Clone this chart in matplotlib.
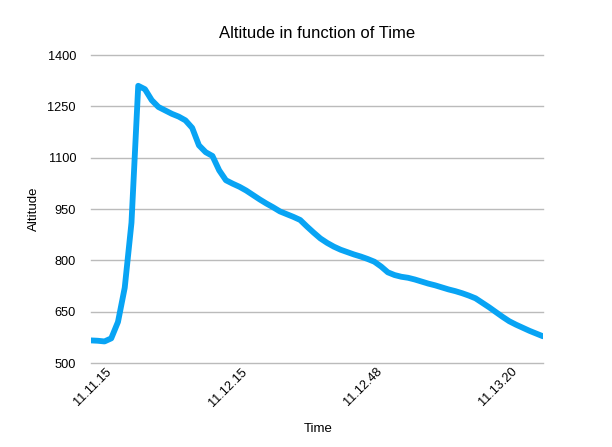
import matplotlib
matplotlib.use("Agg")
import matplotlib.pyplot as plt
import matplotlib.transforms as mtransforms
import numpy as np

plt.rcParams['font.family'] = ['Liberation Sans', 'DejaVu Sans']

altitude = [566, 565, 563, 572, 620, 720, 910, 1310, 1300, 1268,
            1248, 1238, 1228, 1220, 1209, 1187, 1136, 1116, 1105, 1063,
            1034, 1024, 1015, 1004, 991, 978, 966, 955, 943, 935,
            927, 918, 899, 881, 864, 851, 840, 831, 824, 817,
            811, 804, 796, 782, 765, 757, 752, 749, 744, 738,
            732, 727, 721, 715, 710, 704, 697, 689, 676, 663,
            649, 635, 622, 612, 603, 594, 586, 578]
tick_index = [0, 20, 40, 60]
tick_labels = ["11.11.15", "11.12.15", "11.12.48", "11.13.20"]
y_ticks = [500, 650, 800, 950, 1100, 1250, 1400]

x = np.arange(len(altitude))

fig = plt.figure(figsize=(6.12, 4.47), dpi=100)
ax = fig.add_axes([91/612, 1-363/447, (543-91)/612, (363-55)/447])

ax.plot(x, altitude, color='#08A4F4', linewidth=4.2, solid_capstyle='round',
        solid_joinstyle='round', zorder=3)

ax.set_xlim(0, len(altitude) - 1)
ax.set_ylim(500, 1400)
ax.set_yticks(y_ticks)
ax.set_yticklabels([str(v) for v in y_ticks], fontsize=9.2)
ax.yaxis.grid(True, color='#BBBBBB', linewidth=1.0)
for gl in ax.get_ygridlines():
    gl.set_clip_on(False)
ax.set_xticks(tick_index)

ax.tick_params(axis='both', length=0)
ax.tick_params(axis='y', pad=10.8)
ax.tick_params(axis='x', pad=5)
for s in ax.spines.values():
    s.set_visible(False)

ax.set_xticklabels(tick_labels, fontsize=9.2, rotation=45, ha='right',
                   va='center', rotation_mode='anchor')
offset = mtransforms.ScaledTranslation(19/100, 0, fig.dpi_scale_trans)
for lbl in ax.get_xticklabels():
    lbl.set_transform(lbl.get_transform() + offset)

ax.set_title("Altitude in function of Time", fontsize=12, pad=12)
ax.set_ylabel("Altitude", fontsize=9.5)
ax.yaxis.set_label_coords(-0.113, 0.5)
ax.set_xlabel("Time", fontsize=9.5)
ax.xaxis.set_label_coords(0.502, -0.195)

fig.savefig("out.png", dpi=100)
